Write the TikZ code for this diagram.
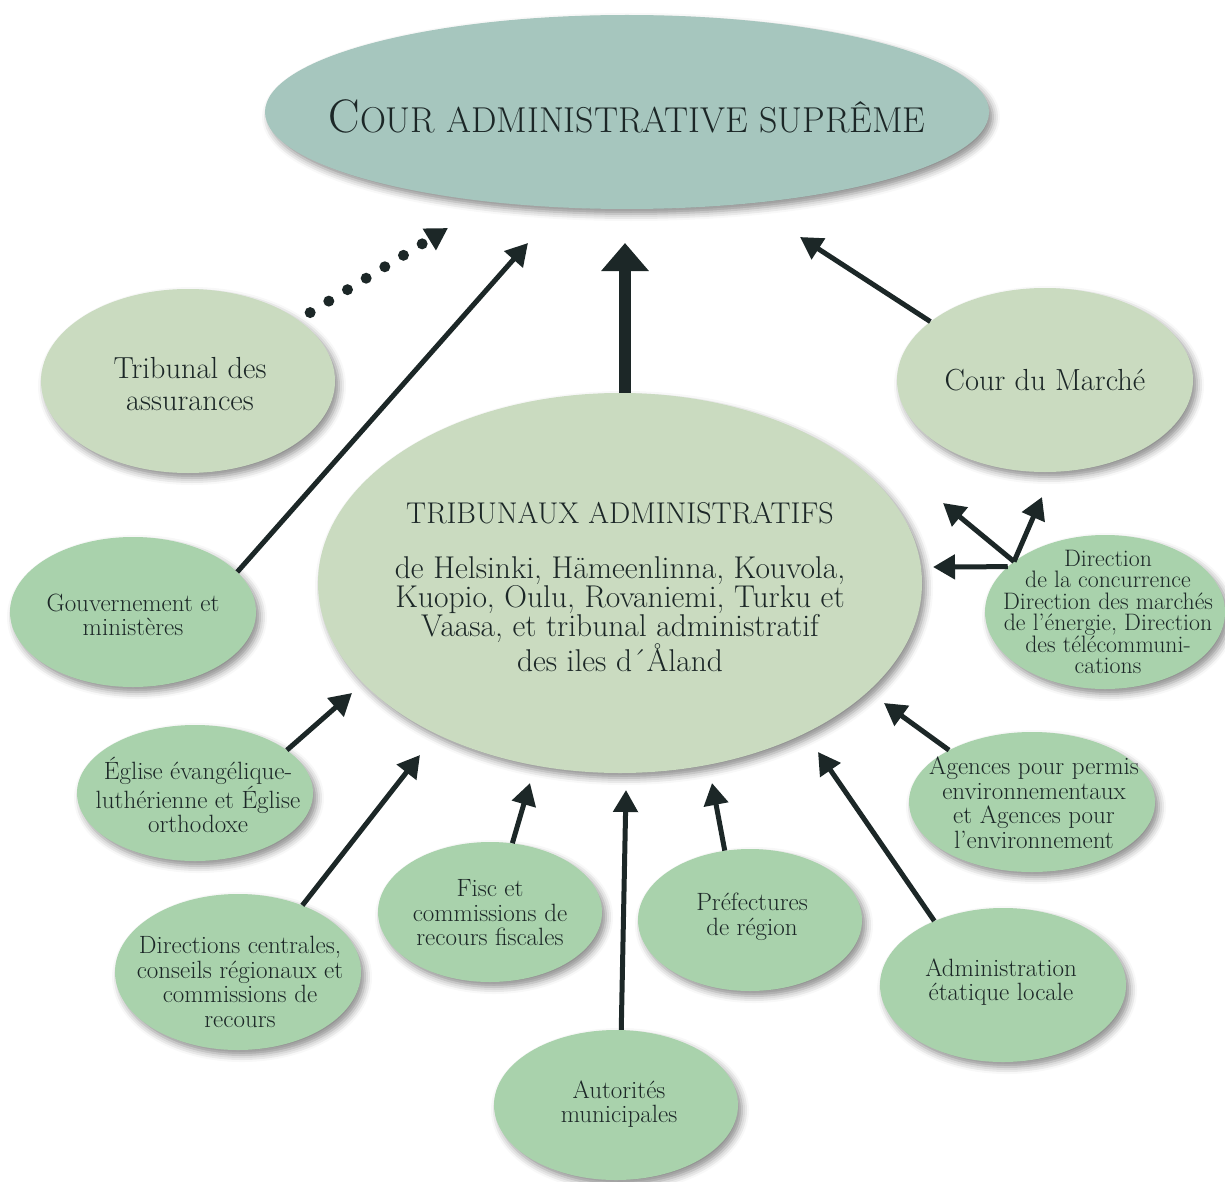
\documentclass[tikz,border=0pt]{standalone}
\usepackage{fontspec}
\usetikzlibrary{shapes.geometric,arrows.meta,shadows.blur}
\definecolor{tealfill}{HTML}{A6C6BE}
\definecolor{palefill}{HTML}{CADBC0}
\definecolor{midfill}{HTML}{A9D2AC}
\definecolor{ink}{HTML}{1C2727}
\begin{document}
\begin{tikzpicture}[x=1pt,y=-1pt,
  ell/.style={ellipse, draw=none, inner sep=0pt,
    blur shadow={shadow xshift=4pt, shadow yshift=-5pt, shadow blur radius=7pt, shadow opacity=45}},
  txt/.style={align=center, text=ink, inner sep=0pt},
  bigtxt/.style={txt, font=\fontsize{30.5}{32}\selectfont},
  smalltxt/.style={txt, font=\fontsize{25}{24.5}\selectfont},
  arr/.style={draw=ink, line width=5pt, -{Triangle[length=22pt,width=24pt]}},
  mainarr/.style={draw=ink, line width=12pt, -{Triangle[length=28pt,width=46pt]}},
  dotarr/.style={draw=ink, line width=11pt, line cap=round, dash pattern=on 0pt off 21.9pt,
    -{Triangle[length=22pt,width=24pt]}}]
\useasboundingbox (0,0) rectangle (1225,1182);

% ellipses
\node[ell, fill=tealfill, minimum width=724pt, minimum height=194pt] (top) at (627,112) {};
\node[ell, fill=palefill, minimum width=604pt, minimum height=380pt] (central) at (620,583) {};
\node[ell, fill=palefill, minimum width=294pt, minimum height=184pt] (trib) at (188,381) {};
\node[ell, fill=palefill, minimum width=296pt, minimum height=184pt] (marche) at (1045,380) {};
\node[ell, fill=midfill, minimum width=246pt, minimum height=150pt] (gouv) at (133,612) {};
\node[ell, fill=midfill, minimum width=240pt, minimum height=154pt] (dir) at (1105,612) {};
\node[ell, fill=midfill, minimum width=236pt, minimum height=136pt] (egl) at (195,793) {};
\node[ell, fill=midfill, minimum width=246pt, minimum height=140pt] (agen) at (1032,802) {};
\node[ell, fill=midfill, minimum width=246pt, minimum height=156pt] (dcent) at (238,972) {};
\node[ell, fill=midfill, minimum width=224pt, minimum height=140pt] (fisc) at (490,912) {};
\node[ell, fill=midfill, minimum width=244pt, minimum height=150pt] (aut) at (616,1105) {};
\node[ell, fill=midfill, minimum width=224pt, minimum height=142pt] (pref) at (750,920) {};
\node[ell, fill=midfill, minimum width=246pt, minimum height=154pt] (adm) at (1003,985) {};

% texts
\node[txt] (top-t) at (627,116) {{\fontsize{47}{50}\selectfont C}{\fontsize{36}{40}\selectfont OUR ADMINISTRATIVE SUPRÊME}};
\node[txt] (central-t) at (620,587) {{\fontsize{30}{32}\selectfont TRIBUNAUX ADMINISTRATIFS}\\[32pt]
  {\fontsize{31.5}{32}\selectfont de Helsinki, Hämeenlinna, Kouvola,}\\
  {\fontsize{31.5}{32}\selectfont Kuopio, Oulu, Rovaniemi, Turku et}\\
  {\fontsize{31.5}{32}\selectfont Vaasa, et tribunal administratif}\\
  {\fontsize{31.5}{32}\selectfont des iles d´Åland}};
\node[bigtxt] (trib-t) at (190,384) {Tribunal des\\assurances};
\node[bigtxt] (marche-t) at (1045,380) {Cour du Marché};
\node[smalltxt] (gouv-t) at (133,615) {Gouvernement et\\ministères};
\node[txt, font=\fontsize{23.8}{21.5}\selectfont] (dir-t) at (1108,612) {Direction\\de la concurrence\\Direction des marchés\\de l’énergie, Direction\\des télécommuni-\\cations};
\node[smalltxt] (egl-t) at (198,795) {Église évangélique-\\luthérienne et Église\\orthodoxe};
\node[smalltxt] (agen-t) at (1034,803) {Agences pour permis\\environnementaux\\et Agences pour\\l’environnement};
\node[smalltxt] (dcent-t) at (240,982) {Directions centrales,\\conseils régionaux et\\commissions de\\recours};
\node[smalltxt] (fisc-t) at (490,913) {Fisc et\\commissions de\\recours fiscales};
\node[smalltxt] (aut-t) at (619,1104) {Autorités\\municipales};
\node[smalltxt] (pref-t) at (752,917) {Préfectures\\de région};
\node[smalltxt] (adm-t) at (1001,982) {Administration\\étatique locale};

% arrow tips
\coordinate (tipMain) at (625,243);
\coordinate (tipDot) at (448,228);
\coordinate (tipGouv) at (528,243);
\coordinate (tipMarche) at (800,237);
\coordinate (tipDirL) at (933,567);
\coordinate (tipDirUL) at (943,503);
\coordinate (tipDirUR) at (1042,497);
\coordinate (tipEgl) at (352,693);
\coordinate (tipDcent) at (420,755);
\coordinate (tipFisc) at (530,783);
\coordinate (tipAut) at (626,790);
\coordinate (tipPref) at (712,783);
\coordinate (tipAdm) at (818,752);
\coordinate (tipAgen) at (884,703);

% connectors
\draw[mainarr] (central.north -| tipMain) -- (tipMain);
\draw[dotarr, shorten <=14pt] (trib.29) -- (tipDot);
\draw[arr] (gouv.21) -- (tipGouv);
\draw[arr] (marche.153) -- (tipMarche);
\draw[arr] (dir.155) -- (tipDirL);
\draw[arr] (dir.151) -- (tipDirUL);
\draw[arr] (dir.151) -- (tipDirUR);
\draw[arr] (egl.25) -- (tipEgl);
\draw[arr] (dcent.46) -- (tipDcent);
\draw[arr] (fisc.72) -- (tipFisc);
\draw[arr] (aut.86) -- (tipAut);
\draw[arr] (pref.110) -- (tipPref);
\draw[arr] (adm.137) -- (tipAdm);
\draw[arr] (agen.148) -- (tipAgen);
\end{tikzpicture}
\end{document}
